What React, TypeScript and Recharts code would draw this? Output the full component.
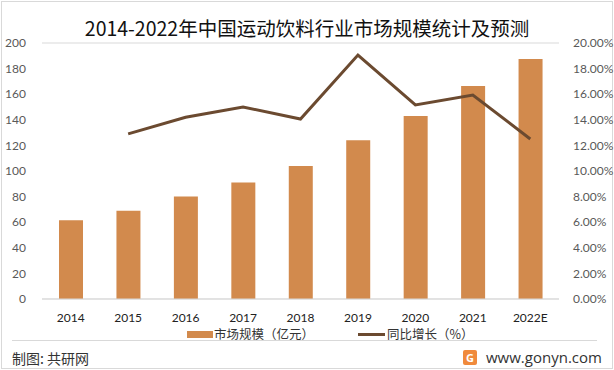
import { ComposedChart, Bar, Line, XAxis, YAxis, CartesianGrid } from "recharts";

const years = ["2014", "2015", "2016", "2017", "2018", "2019", "2020", "2021", "2022E"];
const marketSize = [61.5, 69, 80, 91, 104, 124, 143, 166.5, 187.5];
const growth = [null, 0.129, 0.142, 0.15, 0.1406, 0.1906, 0.1516, 0.1594, 0.125];
const leftTicks = [0, 20, 40, 60, 80, 100, 120, 140, 160, 180, 200];
const rightTicks = [0, 0.02, 0.04, 0.06, 0.08, 0.1, 0.12, 0.14, 0.16, 0.18, 0.2];

const data = years.map((year, i) => ({ year, size: marketSize[i], growth: growth[i] }));

const BAR_COLOR = "#D28A4D";
const LINE_COLOR = "#6B4A30";
const numFont = "Lato, 'Noto Sans CJK SC', sans-serif";
const cjkFont = "'Noto Sans CJK SC', sans-serif";

export default function App() {
  return (
    <div
      style={{
        position: "absolute",
        left: 0,
        top: 0,
        width: 614,
        height: 370,
        background: "#fff",
        overflow: "hidden",
      }}
    >
      <div
        style={{
          position: "absolute",
          left: 1,
          top: 1,
          width: 610,
          height: 366,
          border: "1px solid #d9d9d9",
        }}
      />
      <ComposedChart
        width={614}
        height={370}
        data={data}
        margin={{ top: 43, right: 0, left: 0, bottom: 41 }}
      >
        <CartesianGrid vertical={false} stroke="#d9d9d9" />
        <XAxis
          dataKey="year"
          height={30}
          axisLine={{ stroke: "#d9d9d9" }}
          tickLine={false}
          tick={{ fontSize: 12, fill: "#222", fontFamily: numFont }}
          tickMargin={8}
        />
        <YAxis
          yAxisId="left"
          domain={[0, 200]}
          ticks={leftTicks}
          width={42}
          axisLine={false}
          tickLine={false}
          tick={{ fontSize: 12, fill: "#595959", fontFamily: numFont }}
          tickMargin={10}
        />
        <YAxis
          yAxisId="right"
          orientation="right"
          domain={[0, 0.2]}
          ticks={rightTicks}
          width={55}
          axisLine={false}
          tickLine={false}
          tickFormatter={(v: number) => (v * 100).toFixed(2) + "%"}
          tick={{ fontSize: 12, fill: "#595959", fontFamily: numFont }}
          tickMargin={8}
        />
        <Bar
          yAxisId="left"
          dataKey="size"
          fill={BAR_COLOR}
          barSize={24}
          isAnimationActive={false}
        />
        <Line
          yAxisId="right"
          dataKey="growth"
          stroke={LINE_COLOR}
          strokeWidth={3}
          dot={false}
          activeDot={false}
          connectNulls={false}
          isAnimationActive={false}
        />
      </ComposedChart>

      <div
        style={{
          position: "absolute",
          left: 0,
          width: 614,
          top: 14,
          textAlign: "center",
          fontFamily: cjkFont,
          fontSize: 19.5,
          lineHeight: "28px",
          color: "#111",
        }}
      >
        2014-2022年中国运动饮料行业市场规模统计及预测
      </div>

      {/* legend */}
      <div
        style={{
          position: "absolute",
          top: 325,
          left: 187,
          display: "flex",
          alignItems: "center",
          fontFamily: cjkFont,
          fontSize: 12.5,
          color: "#333",
          lineHeight: "18px",
        }}
      >
        <span style={{ display: "inline-block", width: 26, height: 7, background: BAR_COLOR, marginRight: 1 }} />
        <span>市场规模（亿元）</span>
        <span style={{ display: "inline-block", width: 27, height: 3, background: LINE_COLOR, marginLeft: 44, marginRight: 2 }} />
        <span>同比增长（%）</span>
      </div>

      <div
        style={{
          position: "absolute",
          left: 12,
          top: 340,
          width: 585,
          height: 1,
          background: "#d9d9d9",
        }}
      />

      <div
        style={{
          position: "absolute",
          left: 12,
          top: 347,
          fontFamily: cjkFont,
          fontSize: 14,
          color: "#333",
          lineHeight: "22px",
        }}
      >
        制图: 共研网
      </div>

      <div
        style={{
          position: "absolute",
          left: 463,
          top: 346,
          display: "flex",
          alignItems: "center",
          fontFamily: "'Open Sans', sans-serif",
          fontSize: 15,
          color: "#333",
          lineHeight: "22px",
        }}
      >
        <span
          style={{
            display: "inline-block",
            width: 14,
            height: 15,
            borderRadius: 2,
            background: "#F08A3C",
            color: "#fff",
            fontSize: 11,
            lineHeight: "15px",
            textAlign: "center",
            fontWeight: 700,
            marginRight: 9,
          }}
        >
          G
        </span>
        <span>www.gonyn.com</span>
      </div>
    </div>
  );
}
